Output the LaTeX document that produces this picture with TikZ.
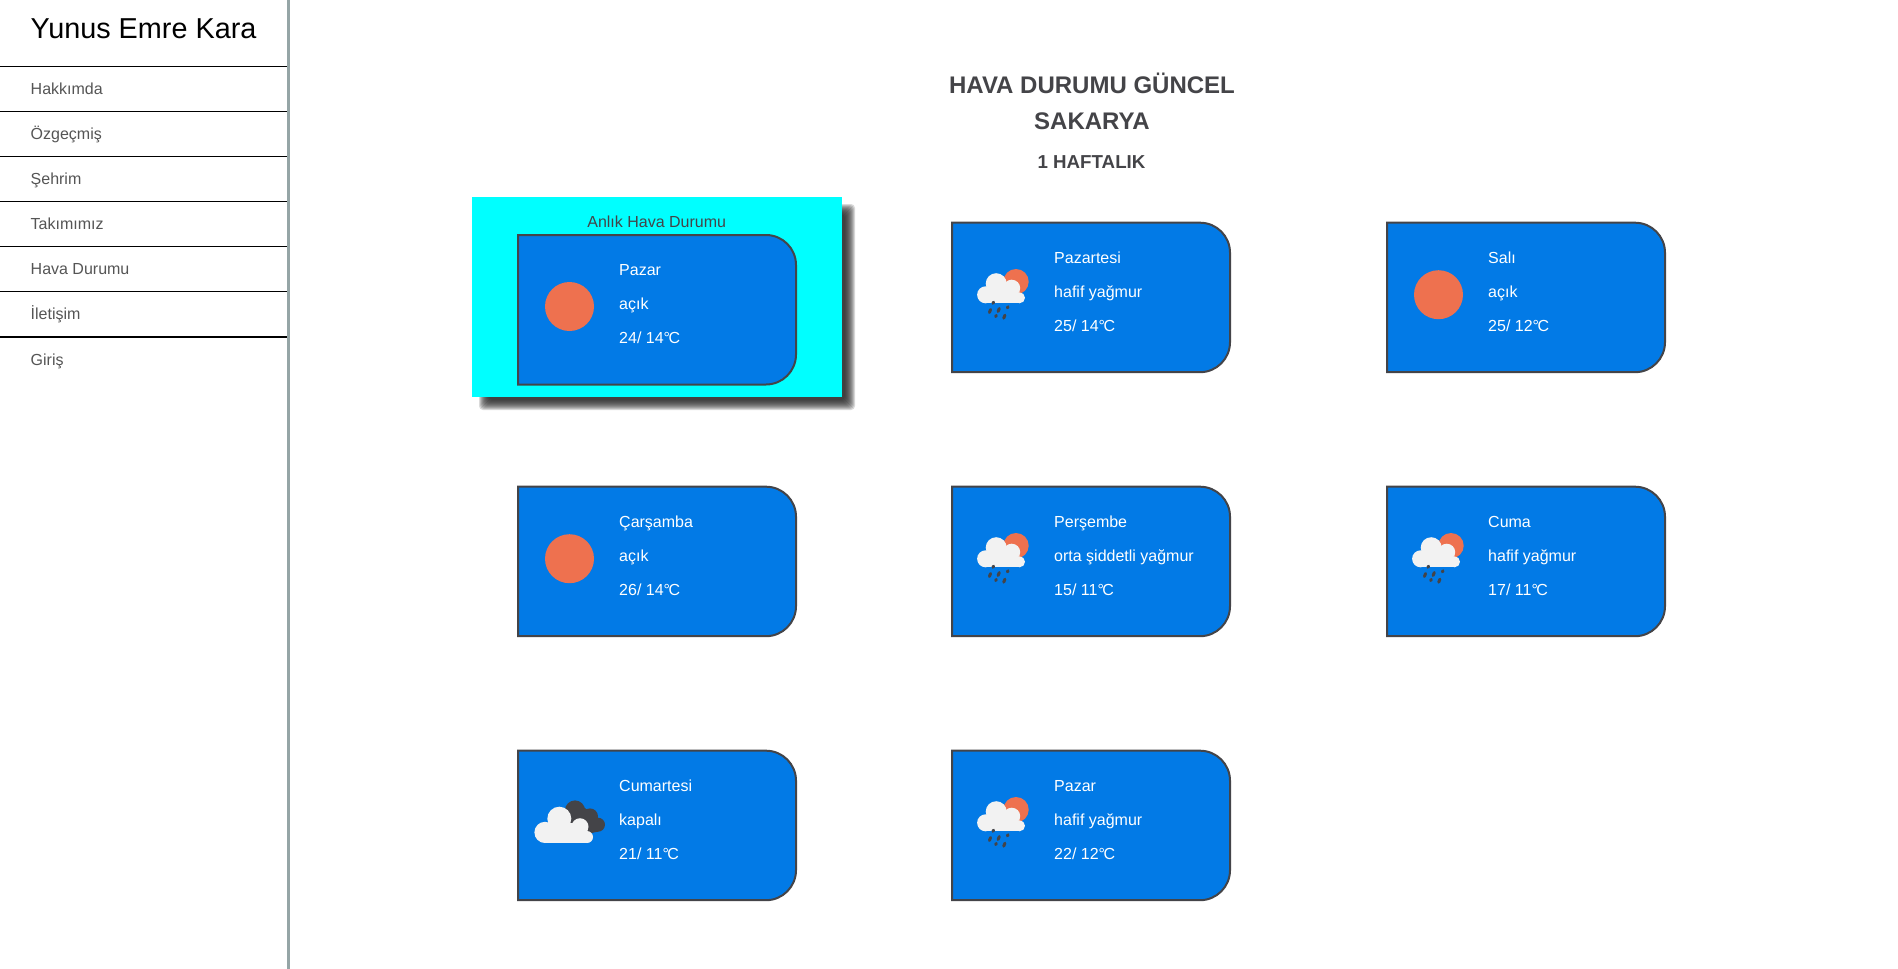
\documentclass[tikz,border=0pt]{standalone}
\usepackage{fontspec}
\setmainfont{Liberation Sans}
\definecolor{cardblue}{RGB}{2,122,230}
\definecolor{sunred}{RGB}{238,113,79}
\definecolor{cloudwhite}{RGB}{242,242,242}
\definecolor{inkgrey}{RGB}{68,68,72}
\definecolor{menugrey}{RGB}{85,85,85}
\definecolor{bargrey}{RGB}{149,165,166}
\definecolor{panelcyan}{RGB}{0,255,255}
\tikzset{
  menu/.style={anchor=base west,inner sep=0pt,text=menugrey,font=\fontsize{16}{18}\selectfont},
  rule/.style={draw=black,line width=1pt},
  head/.style={anchor=base,inner sep=0pt,text=inkgrey,font=\fontsize{24}{28}\selectfont\bfseries},
  day/.style={anchor=base west,inner sep=0pt,text=white,font=\fontsize{16}{18}\selectfont},
  card/.pic={
    \draw[fill=cardblue,draw=inkgrey,line width=2pt] (1,0) -- (249,0) arc[start angle=-90,end angle=0,radius=30]
      -- (279,119.5) arc[start angle=0,end angle=90,radius=30] -- (1,149.5) -- cycle;
  },
  sun/.pic={\fill[sunred] (52.5,72) circle (24.5);},
  rain/.pic={
    \fill[sunred] (65,59) circle (12.7);
    \foreach \p/\r in {{45.2,61}/10.5,{34.6,72.1}/8.5,{60.7,65.5}/8.5,{68.5,75.1}/5.5}
      \fill[cloudwhite] (\p) circle (\r);
    \fill[cloudwhite] (34.6,70) rectangle (68.5,80.6);
    \fill[cloudwhite] (45,64) rectangle (61,80.6);
    \draw[inkgrey,line width=3pt,line cap=round]
      (42.6,79.4) -- (42,80.6) (39.6,86.8) -- (38.4,89.8) (48.3,85.8) -- (47.1,88.8)
      (57,84) -- (56.4,85.2) (45.3,92.7) -- (44.7,93.9) (53.9,92.5) -- (52.7,95.5);
  },
  overcast/.pic={
    \foreach \p/\r in {{58,59.7}/10,{73,65.7}/8,{81,74}/7}
      \fill[inkgrey] (\p) circle (\r);
    \fill[inkgrey] (58,50) -- (81,67) -- (81,81) -- (60,85) -- (48,62) -- cycle;
    \foreach \p/\r in {{28,81.7}/10.6,{42.3,68}/12,{63,76}/8.5,{70,86.3}/6}
      \fill[cloudwhite] (\p) circle (\r);
    \fill[cloudwhite] (28,75) rectangle (70,92.3);
    \fill[cloudwhite] (42,72) rectangle (63,92.3);
  },
}
\begin{document}
\begin{tikzpicture}[x=1pt,y=-1pt]
  \useasboundingbox (0,0) rectangle (1898,969);
  \fill[white] (0,0) rectangle (1898,969);
  \fill[bargrey] (287,0) rectangle (290,969);
  \node[anchor=base west,inner sep=0pt,font=\fontsize{28.8}{32}\selectfont] at (30.5,38) (title) {Yunus Emre Kara};
  \draw[rule] (0,66.5) -- (287,66.5);
  \node[menu] at (30.5,94) (hakkimda) {Hakkımda};
  \draw[rule] (0,111.5) -- (287,111.5);
  \node[menu] at (30.5,139) (ozgecmis) {Özgeçmiş};
  \draw[rule] (0,156.5) -- (287,156.5);
  \node[menu] at (30.5,184) (sehrim) {Şehrim};
  \draw[rule] (0,201.5) -- (287,201.5);
  \node[menu] at (30.5,229) (takimimiz) {Takımımız};
  \draw[rule] (0,246.5) -- (287,246.5);
  \node[menu] at (30.5,274) (havadurumu) {Hava Durumu};
  \draw[rule] (0,291.5) -- (287,291.5);
  \node[menu] at (30.5,319) (iletisim) {İletişim};
  \draw[rule,line width=2pt] (0,337) -- (287,337);
  \node[menu] at (30.5,365) (giris) {Giriş};

  \node[head] at (1092,93) (baslik) {HAVA DURUMU GÜNCEL};
  \node[head] at (1092,129) (sehir) {SAKARYA};
  \node[head,font=\fontsize{18.72}{22}\selectfont\bfseries] at (1091.5,168.5) (sure) {1 HAFTALIK};

  \foreach \d in {-7,-6,...,3}
    \fill[rounded corners=4pt,black!85,opacity=.17] (482-\d,207-\d) rectangle (852+\d,407+\d);
  \fill[panelcyan] (472,197) rectangle (842,397);
  \node[menu,anchor=base,text=inkgrey] at (656.7,227) (anlik) {Anlık Hava Durumu};

  \pic at (517,235) {card};
  \pic at (517,234.5) {sun};
  \node[day] at (619,275) (d1a) {Pazar};
  \node[day] at (619,309) (d1b) {açık};
  \node[day] at (619,343) (d1c) {24/ 14°\kern-1.5ptC};

  \pic at (951,222.7) {card};
  \pic at (951,222.7) {rain};
  \node[day] at (1054,263) (d2a) {Pazartesi};
  \node[day] at (1054,297) (d2b) {hafif yağmur};
  \node[day] at (1054,331) (d2c) {25/ 14°\kern-1.5ptC};

  \pic at (1386,222.7) {card};
  \pic at (1386,222.7) {sun};
  \node[day] at (1488,263) (d3a) {Salı};
  \node[day] at (1488,297) (d3b) {açık};
  \node[day] at (1488,331) (d3c) {25/ 12°\kern-1.5ptC};

  \pic at (517,486.7) {card};
  \pic at (517,486.7) {sun};
  \node[day] at (619,527) (d4a) {Çarşamba};
  \node[day] at (619,561) (d4b) {açık};
  \node[day] at (619,595) (d4c) {26/ 14°\kern-1.5ptC};

  \pic at (951,486.7) {card};
  \pic at (951,486.7) {rain};
  \node[day] at (1054,527) (d5a) {Perşembe};
  \node[day] at (1054,561) (d5b) {orta şiddetli yağmur};
  \node[day] at (1054,595) (d5c) {15/ 11°\kern-1.5ptC};

  \pic at (1386,486.7) {card};
  \pic at (1386,486.7) {rain};
  \node[day] at (1488,527) (d6a) {Cuma};
  \node[day] at (1488,561) (d6b) {hafif yağmur};
  \node[day] at (1488,595) (d6c) {17/ 11°\kern-1.5ptC};

  \pic at (517,750.7) {card};
  \pic at (517,750.7) {overcast};
  \node[day] at (619,791) (d7a) {Cumartesi};
  \node[day] at (619,825) (d7b) {kapalı};
  \node[day] at (619,859) (d7c) {21/ 11°\kern-1.5ptC};

  \pic at (951,750.7) {card};
  \pic at (951,750.7) {rain};
  \node[day] at (1054,791) (d8a) {Pazar};
  \node[day] at (1054,825) (d8b) {hafif yağmur};
  \node[day] at (1054,859) (d8c) {22/ 12°\kern-1.5ptC};
\end{tikzpicture}
\end{document}
